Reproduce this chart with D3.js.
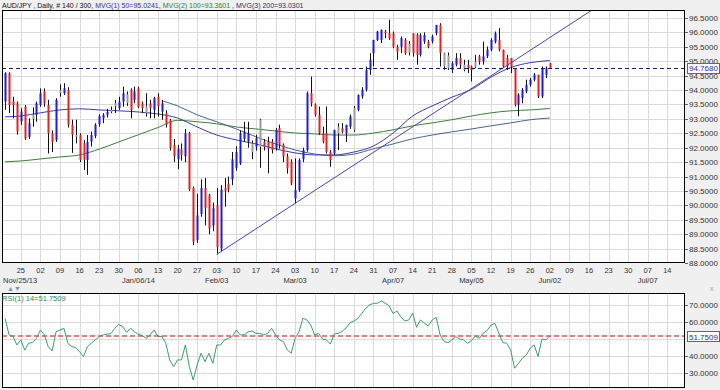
<!DOCTYPE html>
<html>
<head>
<meta charset="utf-8">
<script src="https://cdn.jsdelivr.net/npm/d3@7"></script>
<style>
  body { margin: 0; background: #f0f0f0; }
  svg { display: block; font-family: "Liberation Sans", Arial, sans-serif; }
</style>
</head>
<body>
<svg id="chart" width="720" height="390"></svg>
<script>
// bars are counted from Mon Nov 25 2013 (bar 0), 5 bars a week
const firstBar = -4;

const opens = [
  93.60, 94.59, 93.60, 93.54, 92.91, 93.42, 92.38, 93.00, 93.14, 93.48,
  93.95, 93.48, 92.50, 92.27, 93.90, 93.89, 94.00, 92.80, 92.44, 92.44,
  92.15, 91.58, 92.21, 92.40, 92.82, 93.02, 93.14, 93.25, 93.43, 93.37,
  93.60, 93.85, 94.00, 93.66, 94.06, 93.54, 93.43, 93.54, 93.31, 93.77,
  93.25, 93.20, 92.95, 92.10, 91.60, 91.95, 91.70, 92.50, 90.60, 88.80,
  89.70, 90.60, 90.35, 89.30, 90.00, 88.50, 90.60, 90.75, 90.90, 91.30,
  91.45, 92.30, 92.21, 92.15, 92.03, 92.03, 92.21, 92.21, 92.21, 91.97,
  92.68, 92.10, 91.69, 91.52, 90.24, 90.53, 91.60, 91.92, 93.89, 93.49,
  93.14, 92.50, 92.50, 91.86, 91.80, 92.50, 92.67, 92.50, 92.73, 92.62,
  93.31, 93.78, 94.01, 94.70, 95.28, 95.74, 95.74, 96.03, 95.97, 95.97,
  95.50, 95.50, 95.74, 95.30, 95.97, 95.91, 95.22, 95.68, 95.68, 95.68,
  95.97, 96.26, 95.28, 94.76, 94.70, 94.88, 95.11, 94.88, 94.88, 94.82,
  94.80, 95.17, 94.99, 95.17, 95.40, 95.68, 95.74, 95.40, 95.11, 95.11,
  94.76, 93.49, 93.72, 93.95, 94.18, 94.36, 94.53, 93.78, 94.53, 94.93
];
const highs = [
  94.62, 94.62, 93.77, 93.60, 93.37, 93.48, 93.02, 93.40, 93.60, 94.06,
  94.06, 93.66, 92.60, 93.72, 94.20, 94.24, 94.10, 92.97, 92.97, 92.50,
  92.27, 92.44, 92.56, 92.85, 93.16, 93.20, 93.35, 93.43, 93.66, 93.77,
  94.12, 93.95, 94.06, 94.12, 94.12, 93.60, 93.89, 93.66, 93.77, 93.89,
  93.66, 93.30, 93.00, 92.30, 92.10, 92.15, 92.65, 92.55, 90.65, 90.40,
  90.90, 90.95, 90.40, 90.10, 90.60, 90.70, 90.95, 91.00, 91.85, 92.05,
  92.60, 92.90, 92.90, 92.25, 92.45, 93.00, 92.30, 92.38, 92.30, 92.68,
  92.80, 92.15, 91.80, 91.60, 91.63, 91.63, 92.00, 93.95, 94.47, 93.54,
  93.43, 92.73, 93.43, 91.92, 92.62, 92.85, 92.85, 92.80, 93.15, 93.45,
  93.85, 94.10, 94.82, 95.28, 95.74, 96.05, 96.10, 96.09, 96.44, 96.03,
  95.57, 95.86, 95.80, 95.70, 95.97, 95.97, 95.97, 96.00, 95.74, 95.92,
  96.26, 96.32, 95.30, 95.30, 95.00, 95.28, 95.28, 95.05, 95.05, 94.85,
  95.22, 95.22, 95.68, 95.51, 95.80, 96.03, 96.15, 95.40, 95.22, 95.11,
  94.76, 93.89, 94.07, 94.36, 94.42, 94.59, 94.53, 94.82, 94.82, 94.95
];
const lows = [
  93.31, 93.20, 93.02, 92.45, 92.79, 92.27, 92.30, 92.73, 92.90, 93.42,
  93.42, 91.80, 91.85, 92.20, 93.77, 93.83, 92.70, 91.82, 92.15, 91.50,
  91.23, 91.06, 92.04, 92.33, 92.73, 92.85, 93.05, 93.20, 93.20, 93.31,
  93.42, 93.45, 93.02, 93.54, 93.37, 93.20, 93.08, 93.02, 93.02, 93.08,
  92.97, 92.70, 91.90, 91.50, 91.25, 91.55, 91.50, 90.50, 88.62, 88.70,
  89.60, 89.30, 89.00, 89.10, 88.30, 88.40, 89.95, 90.45, 90.70, 91.20,
  91.40, 92.20, 92.00, 91.60, 91.90, 91.30, 91.90, 91.11, 91.80, 91.90,
  91.97, 91.50, 91.10, 90.70, 90.07, 90.47, 91.50, 91.86, 93.43, 93.08,
  92.44, 92.15, 91.80, 91.34, 91.75, 91.92, 92.50, 92.20, 92.65, 92.55,
  93.26, 93.70, 93.95, 94.53, 94.82, 95.70, 95.63, 95.80, 95.74, 95.45,
  95.05, 95.28, 95.22, 95.20, 95.16, 94.88, 95.16, 95.60, 95.45, 95.62,
  95.90, 94.82, 94.70, 94.70, 94.59, 94.82, 94.76, 94.65, 94.59, 94.30,
  94.76, 94.88, 94.88, 95.11, 95.34, 95.62, 95.34, 94.76, 94.70, 94.59,
  93.43, 93.09, 93.54, 93.89, 94.12, 94.30, 93.72, 93.72, 94.42, 94.75
];
const closes = [
  94.59, 93.48, 93.48, 92.56, 93.25, 92.32, 92.85, 93.15, 93.54, 93.89,
  93.54, 92.50, 92.20, 93.66, 94.00, 94.06, 92.80, 92.45, 92.38, 91.58,
  91.58, 92.20, 92.44, 92.80, 93.10, 93.14, 93.25, 93.31, 93.55, 93.60,
  93.89, 93.55, 93.31, 93.95, 93.42, 93.37, 93.20, 93.37, 93.72, 93.43,
  93.54, 92.80, 92.00, 91.70, 91.95, 91.75, 92.50, 90.55, 88.74, 89.65,
  90.60, 89.90, 89.20, 89.90, 88.55, 90.55, 90.50, 90.55, 91.60, 91.85,
  92.50, 92.55, 92.50, 91.85, 92.33, 92.96, 92.03, 91.97, 91.92, 92.62,
  92.10, 91.69, 91.28, 90.76, 90.53, 91.57, 91.92, 93.89, 93.54, 93.14,
  92.50, 92.21, 91.86, 91.57, 92.62, 92.73, 92.56, 92.79, 93.08, 93.37,
  93.83, 94.01, 94.70, 95.05, 95.74, 96.03, 96.09, 95.97, 95.80, 95.50,
  95.33, 95.80, 95.28, 95.60, 95.28, 95.22, 95.91, 95.91, 95.50, 95.86,
  96.26, 95.28, 94.82, 95.20, 94.93, 95.11, 94.88, 94.70, 94.76, 94.70,
  94.99, 94.99, 95.17, 95.40, 95.74, 95.97, 95.40, 94.82, 94.82, 94.82,
  93.49, 93.83, 94.01, 94.18, 94.36, 94.53, 93.78, 94.76, 94.76, 94.768
];
const grayBars = [3, 10, 14, 23, 24, 27, 32, 59, 61, 81, 85, 99, 108, 109, 113, 116];

const rsi = [
  62.0, 52.5, 51.5, 46.5, 49.5, 43.5, 47.5, 48.0, 50.4, 55.3,
  52.4, 45.5, 43.0, 54.3, 55.3, 56.3, 47.5, 45.5, 45.0, 42.6,
  39.7, 45.5, 47.5, 49.5, 51.5, 52.4, 52.8, 53.2, 56.3, 58.6,
  57.2, 53.9, 56.3, 54.3, 52.8, 52.0, 50.4, 52.4, 55.3, 51.5,
  51.5, 47.5, 37.7, 33.8, 37.7, 37.7, 46.5, 33.8, 25.9, 34.8,
  41.6, 36.7, 41.6, 35.7, 46.5, 46.5, 49.5, 50.4, 51.5, 55.3,
  52.4, 52.4, 54.3, 54.7, 53.3, 53.3, 52.4, 53.3, 56.3, 52.4,
  49.5, 48.5, 43.6, 41.6, 50.4, 54.3, 62.2, 61.2, 58.2, 52.4,
  53.3, 50.0, 49.5, 47.0, 53.0, 53.3, 54.5, 56.5, 59.5, 60.5,
  62.2, 65.0, 68.0, 70.0, 71.0, 71.0, 72.4, 71.0, 69.5, 65.0,
  66.5, 63.0, 60.6, 61.2, 65.2, 56.9, 61.2, 59.2, 57.8, 61.2,
  62.8, 52.4, 48.5, 47.9, 49.5, 51.4, 50.0, 49.5, 47.5, 49.1,
  51.8, 50.4, 53.4, 55.0, 58.2, 59.2, 53.4, 47.9, 47.5, 43.6,
  32.8, 35.7, 38.7, 40.6, 44.6, 46.5, 39.7, 50.0, 49.5, 51.7509
];

// moving averages, read once a week
const maBars = [-4, 0, 5, 10, 15, 20, 25, 30, 35, 40, 45, 50, 55, 60, 65, 70,
  75, 80, 85, 90, 95, 100, 105, 110, 115, 120, 125, 130, 135];
const ma50 = [93.07, 93.10, 93.21, 93.31, 93.35, 93.31, 93.28, 93.24, 93.17, 93.03,
  92.72, 92.44, 92.27, 92.13, 91.96, 91.82, 91.75, 91.75, 91.85, 92.06,
  92.51, 93.10, 93.45, 93.75, 94.02, 94.45, 94.78, 94.95, 95.0241];
const ma100 = [91.51, 91.54, 91.61, 91.68, 91.75, 91.95, 92.20, 92.45, 92.70, 92.95,
  92.90, 92.83, 92.72, 92.65, 92.58, 92.51, 92.48, 92.44, 92.44, 92.51,
  92.62, 92.76, 92.86, 92.97, 93.10, 93.21, 93.28, 93.31, 93.3601];
const ma200Bars = [36, 40, 45, 50, 55, 60, 65, 70, 75, 80, 85, 90, 95, 100, 105,
  110, 115, 120, 125, 130, 135];
const ma200 = [93.63, 93.45, 93.14, 92.90, 92.65, 92.38, 92.13, 91.92, 91.78, 91.72,
  91.78, 91.96, 92.13, 92.31, 92.44, 92.55, 92.65, 92.76, 92.86, 92.97, 93.0301];

// trend line through the Feb and Mar lows
const trendBars = [50, 70];
const trendPrices = [88.30, 90.07];

const lastPrice = 94.768;
const lastRsi = 51.7509;

const priceTicks = [88, 88.5, 89, 89.5, 90, 90.5, 91, 91.5, 92, 92.5, 93, 93.5,
  94, 94.5, 95, 95.5, 96, 96.5];
const rsiTicks = [30, 40, 50, 60, 70];
const rsiLabelTicks = [30, 40, 60, 70];

const dayLabels = ["25", "02", "09", "16", "23", "30", "06", "13", "20", "27", "03", "10",
  "17", "24", "03", "10", "17", "24", "31", "07", "14", "21", "28", "05", "12", "19",
  "26", "02", "09", "16", "23", "30", "07", "14"];
const monthWeeks = [0, 6, 10, 14, 19, 23, 27, 32];
const monthTexts = ["Nov/25/13", "Jan/06/14", "Feb/03", "Mar/03", "Apr/07", "May/05", "Jun/02", "Jul/07"];

const svg = d3.select("#chart");
const plotL = 2, plotR = 685;
const mainTop = 10, mainBot = 262;
const rsiTop = 293, rsiBot = 387;

const x = d3.scaleLinear().domain([-4.8, 169.5]).range([plotL, plotR]);
const y = d3.scaleLinear().domain([88, 96.5]).range([263, 18]);
const yR = d3.scaleLinear().domain([30, 70]).range([373, 305]);

const bars = opens.map((o, k) => ({
  i: firstBar + k, o, h: highs[k], l: lows[k], c: closes[k],
}));
const weekBars = dayLabels.map((d, k) => k * 5);

svg.append("rect").attr("width", 720).attr("height", 390).attr("fill", "#f0f0f0");

const defs = svg.append("defs");
defs.append("clipPath").attr("id", "clipMain").append("rect")
  .attr("x", plotL).attr("y", mainTop).attr("width", plotR - plotL).attr("height", mainBot - mainTop);
defs.append("clipPath").attr("id", "clipRsi").append("rect")
  .attr("x", plotL).attr("y", rsiTop).attr("width", plotR - plotL).attr("height", rsiBot - rsiTop);

function panel(top, bottom, yScale, ticks, clipId) {
  svg.append("rect").attr("x", plotL).attr("y", top)
    .attr("width", plotR - plotL).attr("height", bottom - top).attr("fill", "#fff");
  const g = svg.append("g").attr("clip-path", `url(#${clipId})`);
  g.selectAll("line.vg").data(weekBars).join("line").attr("class", "vg")
    .attr("x1", (d) => Math.round(x(d)) + 0.5).attr("x2", (d) => Math.round(x(d)) + 0.5)
    .attr("y1", top).attr("y2", bottom)
    .attr("stroke", "#dadada").attr("stroke-width", 1);
  g.selectAll("line.hg").data(ticks).join("line").attr("class", "hg")
    .attr("x1", plotL).attr("x2", plotR)
    .attr("y1", (d) => Math.round(yScale(d)) + 0.5).attr("y2", (d) => Math.round(yScale(d)) + 0.5)
    .attr("stroke", "#dadada").attr("stroke-width", 1);
  return g;
}

// ---- price panel
const main = panel(mainTop, mainBot, y, priceTicks, "clipMain");

const maLine = (bx) => d3.line()
  .x((d, k) => x(bx[k]))
  .y((d) => y(d))
  .curve(d3.curveMonotoneX);

main.append("path").attr("d", maLine(maBars)(ma100))
  .attr("fill", "none").attr("stroke", "#3f7d3f").attr("stroke-width", 1);
main.append("path").attr("d", maLine(ma200Bars)(ma200))
  .attr("fill", "none").attr("stroke", "#4a6590").attr("stroke-width", 1);
main.append("path").attr("d", maLine(maBars)(ma50))
  .attr("fill", "none").attr("stroke", "#3c3ca0").attr("stroke-width", 1);

function bodyColor(d) {
  if (grayBars.includes(d.i)) return "#9c9c9c";
  return d.c >= d.o ? "#1f1fd2" : "#e02424";
}

const candles = main.selectAll("g.candle").data(bars).join("g").attr("class", "candle");
candles.append("line")
  .attr("x1", (d) => Math.round(x(d.i)) + 0.5).attr("x2", (d) => Math.round(x(d.i)) + 0.5)
  .attr("y1", (d) => y(d.h)).attr("y2", (d) => y(d.l))
  .attr("stroke", "#111").attr("stroke-width", 1);
candles.append("rect")
  .attr("x", (d) => Math.round(x(d.i)) - 0.5)
  .attr("width", 2)
  .attr("y", (d) => y(Math.max(d.o, d.c)))
  .attr("height", (d) => Math.max(1, Math.abs(y(d.o) - y(d.c))))
  .attr("fill", bodyColor);

// trend line, carried on to the right edge
const slope = (trendPrices[1] - trendPrices[0]) / (trendBars[1] - trendBars[0]);
const trendEnd = 169.5;
main.append("line")
  .attr("x1", x(trendBars[0])).attr("y1", y(trendPrices[0]))
  .attr("x2", x(trendEnd)).attr("y2", y(trendPrices[0] + slope * (trendEnd - trendBars[0])))
  .attr("stroke", "#4646b0").attr("stroke-width", 1);

main.append("line")
  .attr("x1", plotL).attr("x2", plotR)
  .attr("y1", Math.round(y(lastPrice)) + 0.5).attr("y2", Math.round(y(lastPrice)) + 0.5)
  .attr("stroke", "#1c1c5c").attr("stroke-width", 1).attr("stroke-dasharray", "4,3");

svg.append("rect").attr("x", plotL + 0.5).attr("y", mainTop + 0.5)
  .attr("width", plotR - plotL - 1).attr("height", mainBot - mainTop)
  .attr("fill", "none").attr("stroke", "#000");

// price axis
svg.selectAll("line.ptick").data(priceTicks).join("line").attr("class", "ptick")
  .attr("x1", plotR).attr("x2", plotR + 3)
  .attr("y1", (d) => Math.round(y(d)) + 0.5).attr("y2", (d) => Math.round(y(d)) + 0.5)
  .attr("stroke", "#666");
svg.selectAll("text.plabel").data(priceTicks).join("text").attr("class", "plabel")
  .attr("x", plotR + 4).attr("y", (d) => y(d) + 3)
  .attr("font-size", 8).attr("fill", "#333")
  .text((d) => d.toFixed(4));

function valueBox(val, cy) {
  svg.append("rect").attr("x", plotR + 2.5).attr("y", Math.round(cy) - 4.5)
    .attr("width", 32).attr("height", 10)
    .attr("fill", "#fff").attr("stroke", "#c83c3c");
  svg.append("text").attr("x", plotR + 4).attr("y", cy + 3.5)
    .attr("font-size", 8).attr("fill", "#2a2aa0").text(val.toFixed(4));
}
valueBox(lastPrice, y(lastPrice));

// date axis
svg.selectAll("text.day").data(dayLabels).join("text").attr("class", "day")
  .attr("x", (d, k) => x(weekBars[k])).attr("y", 273)
  .attr("text-anchor", "middle").attr("font-size", 7.5).attr("fill", "#333")
  .text((d) => d);
svg.selectAll("text.month").data(monthTexts).join("text").attr("class", "month")
  .attr("x", (d, k) => (k === 0 ? 3 : x(monthWeeks[k] * 5)))
  .attr("y", 283)
  .attr("text-anchor", (d, k) => (k === 0 ? "start" : "middle"))
  .attr("font-size", 7.5).attr("fill", "#333")
  .text((d) => d);

// header
const head = svg.append("text").attr("x", 2).attr("y", 7.5).attr("font-size", 7);
head.append("tspan").attr("fill", "#111").text("AUD/JPY , Daily, # 140 / 300, ");
head.append("tspan").attr("fill", "#3232b4").text("MVG(1) 50=95.0241");
head.append("tspan").attr("fill", "#111").text(", ");
head.append("tspan").attr("fill", "#2d862d").text("MVG(2) 100=93.3601");
head.append("tspan").attr("fill", "#111").text(" , ");
head.append("tspan").attr("fill", "#2c2c78").text("MVG(3) 200=93.0301");

// ---- RSI panel
svg.append("text").attr("x", 7).attr("y", 291).attr("font-size", 7).attr("fill", "#8090b4").text("\u25B2\u25BC");
svg.append("text").attr("x", 710).attr("y", 291).attr("font-size", 7).attr("fill", "#9aa4b8").text("x");

const rsiG = panel(rsiTop, rsiBot, yR, rsiTicks, "clipRsi");
rsiG.append("line")
  .attr("x1", plotL).attr("x2", plotR)
  .attr("y1", yR(lastRsi)).attr("y2", yR(lastRsi))
  .attr("stroke", "#d85a5a").attr("stroke-width", 1.3).attr("stroke-dasharray", "5,3");
rsiG.append("path")
  .attr("d", d3.line().x((d, k) => x(firstBar + k)).y((d) => yR(d))(rsi))
  .attr("fill", "none").attr("stroke", "#3f9a70").attr("stroke-width", 1);

svg.append("rect").attr("x", plotL + 0.5).attr("y", rsiTop + 0.5)
  .attr("width", plotR - plotL - 1).attr("height", rsiBot - rsiTop)
  .attr("fill", "none").attr("stroke", "#000");

svg.append("text").attr("x", 2).attr("y", 301).attr("font-size", 7.5)
  .attr("fill", "#2e8b57").text("RSI(1) 14=51.7509");

svg.selectAll("line.rtick").data(rsiLabelTicks).join("line").attr("class", "rtick")
  .attr("x1", plotR).attr("x2", plotR + 3)
  .attr("y1", (d) => Math.round(yR(d)) + 0.5).attr("y2", (d) => Math.round(yR(d)) + 0.5)
  .attr("stroke", "#666");
svg.selectAll("text.rlabel").data(rsiLabelTicks).join("text").attr("class", "rlabel")
  .attr("x", plotR + 4).attr("y", (d) => yR(d) + 3)
  .attr("font-size", 8).attr("fill", "#333")
  .text((d) => d.toFixed(4));
valueBox(lastRsi, yR(lastRsi));
</script>
</body>
</html>
